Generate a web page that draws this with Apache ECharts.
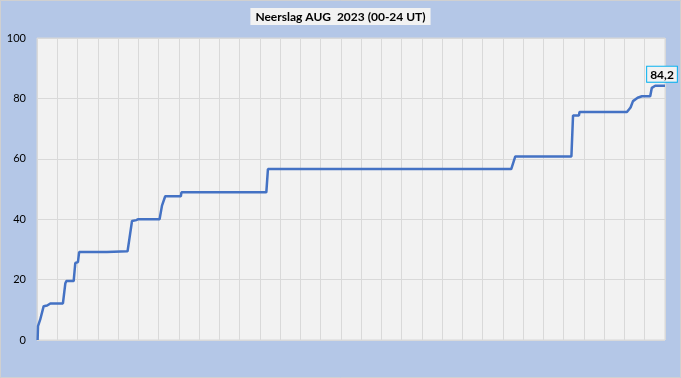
<!DOCTYPE html>
<html>
<head>
<meta charset="utf-8">
<script src="https://cdn.jsdelivr.net/npm/echarts@6/dist/echarts.min.js"></script>
<style>
html,body{margin:0;padding:0;background:#B4C7E7;}
#chart{width:681px;height:378px;}
</style>
</head>
<body>
<div id="chart"></div>
<script>
// Day of month (fraction) and cumulative precipitation (mm)
const days = [0.03,0.05,0.1,0.16,0.33,0.5,0.55,0.66,1.28,1.4,1.45,1.81,1.89,1.95,2.02,2.08,3.45,3.47,4.47,4.55,4.69,4.9,5.0,6.05,6.17,6.25,6.33,7.1,7.13,11.32,11.4,23.41,23.61,26.38,26.46,26.75,26.78,29.12,29.3,29.42,29.65,29.86,30.27,30.35,30.52,31.0];
const values = [0,4.6,4.8,6.8,11.2,11.4,11.9,12.1,12.1,18.8,19.5,19.5,25.5,25.8,25.8,29.1,29.1,29.4,29.4,33,39.4,39.7,40.0,40.0,44.5,45,47.6,47.6,48.9,48.9,56.6,56.6,60.8,60.8,74.3,74.3,75.5,75.5,77,79.1,80.2,80.7,80.7,83.5,84.2,84.2];
const yTicks = [0,20,40,60,80,100];
const titleParts = ['Neerslag ', 'AUG', '  2023 (00-24 UT)'];
const lastLabel = '84,2';

const chart = echarts.init(document.getElementById('chart'));
const data = days.map((d, i) => {
  const item = { value: [d, values[i]] };
  if (i === days.length - 1) {
    item.label = {
      show: true,
      formatter: lastLabel,
      position: 'top',
      distance: 4,
      offset: [-3, 0],
      backgroundColor: '#F2F2F2',
      borderColor: '#00B0F0',
      borderWidth: 1,
      padding: [2, 3, 1, 3],
      fontFamily: 'Lato',
      fontWeight: 'bold',
      fontSize: 12,
      color: '#000'
    };
  }
  return item;
});

chart.setOption({
  backgroundColor: '#B4C7E7',
  animation: false,
  title: {
    text: '{n|' + titleParts[0] + '}{b|' + titleParts[1] + '}{n|' + titleParts[2] + '}',
    left: 'center',
    top: 8,
    backgroundColor: '#F2F2F2',
    padding: [3, 5, 2, 5],
    textStyle: {
      rich: {
        n: { fontFamily: 'Lato', fontSize: 12, color: '#000' },
        b: { fontFamily: 'Lato', fontSize: 12, color: '#000', fontWeight: 'bold' }
      }
    }
  },
  graphic: [{
    type: 'rect',
    shape: { x: 0.5, y: 0.5, width: 680, height: 377 },
    style: { fill: 'none', stroke: '#D0D0D0', lineWidth: 1 },
    silent: true
  }],
  grid: {
    left: 37, right: 16, top: 38, bottom: 38,
    show: true,
    backgroundColor: '#F2F2F2',
    borderColor: '#D9D9D9',
    borderWidth: 1
  },
  xAxis: {
    type: 'value',
    min: 0, max: 31, interval: 1,
    axisLabel: { show: false },
    axisTick: { show: false },
    axisLine: { show: false },
    splitLine: { show: true, lineStyle: { color: '#D9D9D9', width: 1 } }
  },
  yAxis: {
    type: 'value',
    min: yTicks[0], max: yTicks[yTicks.length - 1], interval: 20,
    axisLabel: { color: '#000', fontFamily: 'Lato', fontSize: 11, margin: 11 },
    axisTick: { show: false },
    axisLine: { show: false },
    splitLine: { show: true, lineStyle: { color: '#D9D9D9', width: 1 } }
  },
  series: [{
    type: 'line',
    data: data,
    symbol: 'circle',
    symbolSize: 0,
    showSymbol: true,
    showAllSymbol: true,
    lineStyle: { color: '#4472C4', width: 2.5 },
    itemStyle: { color: '#4472C4' },
    z: 5
  }]
});
</script>
</body>
</html>
